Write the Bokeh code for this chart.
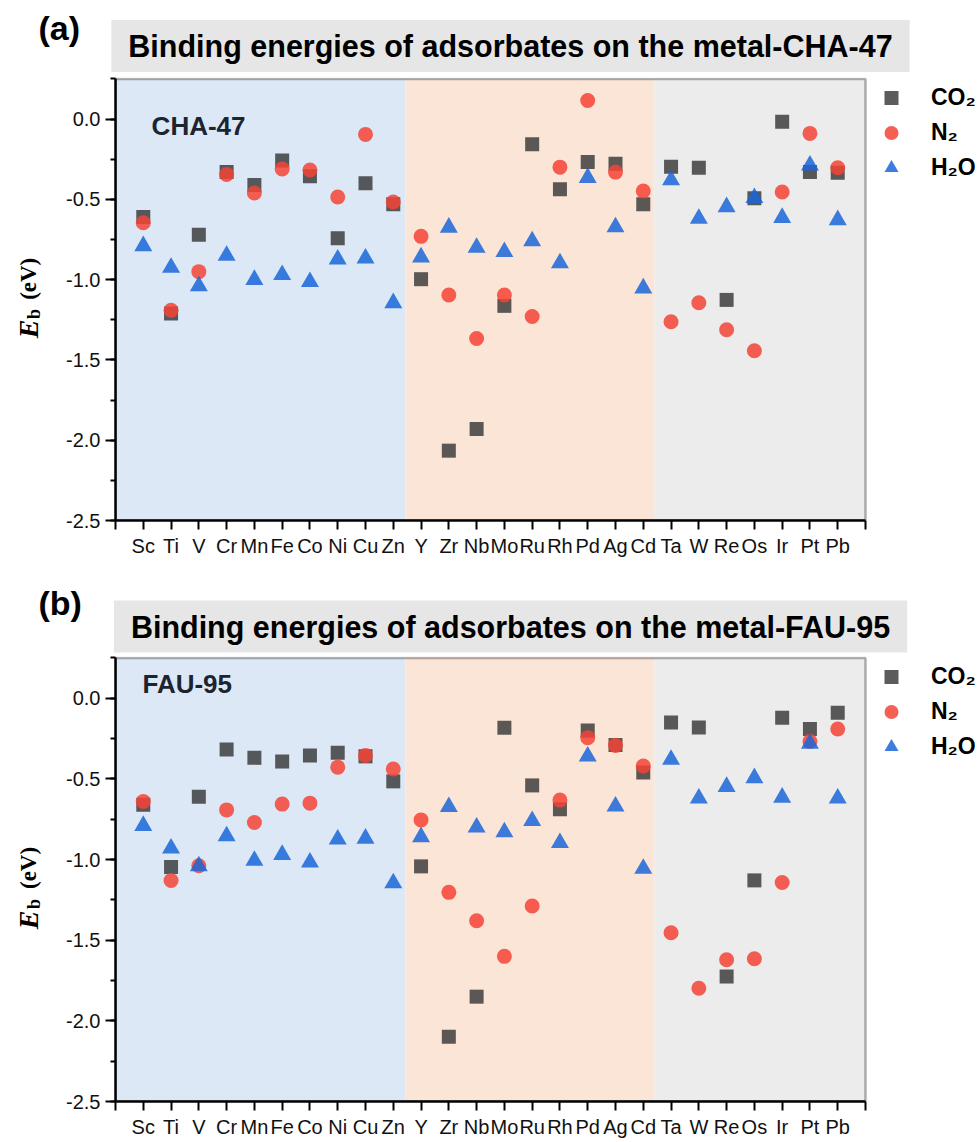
from bokeh.plotting import figure
from bokeh.models import (FixedTicker, NumeralTickFormatter, Label, BoxAnnotation,
                          Legend, LegendItem, ColumnDataSource)
from bokeh.layouts import column, row
from bokeh.embed import file_html
from bokeh.resources import INLINE

# ---------------- data ----------------
elements = ["Sc", "Ti", "V", "Cr", "Mn", "Fe", "Co", "Ni", "Cu", "Zn",
            "Y", "Zr", "Nb", "Mo", "Ru", "Rh", "Pd", "Ag", "Cd",
            "Ta", "W", "Re", "Os", "Ir", "Pt", "Pb"]

# metal-CHA-47
co2_cha = [-0.61, -1.21, -0.72, -0.33, -0.41, -0.257, -0.355, -0.742, -0.40, -0.53,
           -0.997, -2.065, -1.93, -1.163, -0.157, -0.437, -0.267, -0.278, -0.53,
           -0.296, -0.303, -1.126, -0.493, -0.017, -0.33, -0.334]
n2_cha = [-0.645, -1.19, -0.95, -0.345, -0.46, -0.31, -0.317, -0.485, -0.095, -0.516,
          -0.73, -1.095, -1.366, -1.095, -1.229, -0.299, 0.116, -0.33, -0.448,
          -1.262, -1.144, -1.312, -1.443, -0.454, -0.089, -0.303]
h2o_cha = [-0.79, -0.925, -1.04, -0.85, -1.00, -0.97, -1.014, -0.873, -0.867, -1.145,
           -0.86, -0.675, -0.80, -0.827, -0.76, -0.897, -0.365, -0.672, -1.053,
           -0.38, -0.62, -0.547, -0.49, -0.614, -0.288, -0.628]

# metal-FAU-95
co2_fau = [-0.66, -1.046, -0.61, -0.317, -0.369, -0.392, -0.354, -0.337, -0.36, -0.515,
           -1.042, -2.098, -1.85, -0.183, -0.54, -0.688, -0.20, -0.29, -0.46,
           -0.15, -0.181, -1.725, -1.129, -0.121, -0.19, -0.09]
n2_fau = [-0.64, -1.13, -1.038, -0.692, -0.77, -0.656, -0.65, -0.427, -0.354, -0.438,
          -0.754, -1.203, -1.379, -1.60, -1.288, -0.631, -0.244, -0.293, -0.42,
          -1.454, -1.798, -1.621, -1.615, -1.142, -0.267, -0.19]
h2o_fau = [-0.79, -0.93, -1.04, -0.854, -1.006, -0.97, -1.017, -0.875, -0.869, -1.146,
           -0.86, -0.673, -0.80, -0.83, -0.76, -0.896, -0.36, -0.67, -1.056,
           -0.38, -0.62, -0.548, -0.494, -0.615, -0.28, -0.62]

series_names = ["CO\u2082", "N\u2082", "H\u2082O"]
y_ticks = [0.0, -0.5, -1.0, -1.5, -2.0, -2.5]
y_minor = [0.25, 0.0, -0.25, -0.5, -0.75, -1.0, -1.25, -1.5, -1.75, -2.0, -2.25, -2.5]
y_lo, y_hi = -2.5, 0.25

# block boundaries (3d | 4d | 5d) in category units
edge_3d4d = 10.44
edge_4d5d = 19.40

SANS = "Liberation Sans"
SERIF = "Liberation Serif"
N = len(elements)
X_AXIS_END = N + 1            # axis runs 0 .. 27
YLAB_W = 50
MAIN_W = 930
LEFT_B = 115 - YLAB_W
PLOT_W = 750                  # width of the boxed plotting area in pixels
FRAME_W = MAIN_W - LEFT_B
X_VIEW_END = X_AXIS_END * FRAME_W / PLOT_W   # extra room on the right for the legend


def text_fig(width, height):
    f = figure(width=width, height=height, x_range=(0, width), y_range=(0, height),
               x_axis_location=None, y_axis_location=None, min_border=0,
               output_backend="svg", toolbar_location=None)
    f.outline_line_color = None
    f.grid.visible = False
    f.background_fill_color = "white"
    f.border_fill_color = "white"
    return f


def header(tag, title, height, tag_y, box_y):
    h = text_fig(980, height)
    h.add_layout(Label(x=38, y=tag_y, text=tag, text_align="left",
                       text_baseline="middle", text_font=SANS,
                       text_font_style="bold", text_font_size="34px",
                       text_color="black"))
    h.add_layout(Label(x=510, y=box_y, text=title, text_align="center",
                       text_baseline="middle", text_font=SANS,
                       text_font_style="bold", text_font_size="30.5px",
                       text_color="black", background_fill_color="#e6e6e6",
                       background_fill_alpha=1.0,
                       padding=dict(left=17, right=17, top=9, bottom=9)))
    return h


def ylabel(height):
    f = text_fig(YLAB_W, height)
    f.add_layout(Label(x=28, y=height - 299, text="E", angle=1.5708,
                       text_align="left", text_baseline="alphabetic",
                       text_font=SERIF, text_font_style="bold italic",
                       text_font_size="28px", text_color="black"))
    f.add_layout(Label(x=33, y=height - 277, text="b", angle=1.5708,
                       text_align="left", text_baseline="alphabetic",
                       text_font=SERIF, text_font_style="bold",
                       text_font_size="18px", text_color="black"))
    f.add_layout(Label(x=28, y=height - 255, text="(eV)", angle=1.5708,
                       text_align="left", text_baseline="alphabetic",
                       text_font=SERIF, text_font_style="bold",
                       text_font_size="23px", text_color="black"))
    return f


def main_panel(zeo, co2, n2, h2o, frame_h, bottom, zeo_x, zeo_y, leg_y):
    top = 3
    height = top + frame_h + bottom
    px_per_unit = frame_h / 2.75
    y_view_hi = y_hi + 1.5 / px_per_unit          # room for the top border line
    xs = list(range(1, N + 1))
    p = figure(width=MAIN_W, height=height, x_range=(0, X_VIEW_END),
               y_range=(y_lo, y_view_hi),
               output_backend="svg", toolbar_location=None,
               min_border_left=LEFT_B, min_border_right=0,
               min_border_top=top, min_border_bottom=bottom)
    p.background_fill_color = "white"
    p.border_fill_color = "white"
    p.grid.visible = False
    p.outline_line_color = None

    p.add_layout(BoxAnnotation(left=0, right=edge_3d4d, bottom=y_lo, top=y_hi,
                               fill_color="#dce8f5", fill_alpha=1, line_color=None,
                               level="underlay"))
    p.add_layout(BoxAnnotation(left=edge_3d4d, right=edge_4d5d, bottom=y_lo, top=y_hi,
                               fill_color="#fbe5d7", fill_alpha=1, line_color=None,
                               level="underlay"))
    p.add_layout(BoxAnnotation(left=edge_4d5d, right=X_AXIS_END, bottom=y_lo, top=y_hi,
                               fill_color="#ececec", fill_alpha=1, line_color=None,
                               level="underlay"))

    src = ColumnDataSource(dict(x=xs, co2=co2, n2=n2, h2o=h2o))
    r1 = p.scatter("x", "co2", source=src, marker="square", size=14,
                   fill_color="#333333", fill_alpha=0.8, line_color=None)
    r2 = p.scatter("x", "n2", source=src, marker="circle", size=15,
                   fill_color="#f44336", fill_alpha=0.85, line_color=None)
    r3 = p.scatter("x", "h2o", source=src, marker="triangle", size=18,
                   fill_color="#1a66d9", fill_alpha=0.85, line_color=None)

    # boxed frame around the plotting area
    p.add_layout(BoxAnnotation(left=0, right=X_AXIS_END, bottom=y_lo, top=y_hi,
                               fill_alpha=0, line_color="black", line_width=2.5,
                               level="overlay"))

    xa = p.xaxis[0]
    xa.bounds = (0, X_AXIS_END)
    xa.ticker = FixedTicker(ticks=list(range(0, X_AXIS_END + 1)))
    overrides = {i + 1: e for i, e in enumerate(elements)}
    overrides[0] = ""
    overrides[X_AXIS_END] = ""
    xa.major_label_overrides = overrides
    xa.minor_tick_line_color = None
    xa.major_tick_in = 0
    xa.major_tick_out = 9
    xa.major_tick_line_width = 2
    xa.axis_line_width = 2.5
    xa.major_label_standoff = 5
    xa.major_label_text_font = SANS
    xa.major_label_text_font_size = "20px"
    xa.major_label_text_color = "#111111"

    ya = p.yaxis[0]
    ya.bounds = (y_lo, y_hi)
    ya.ticker = FixedTicker(ticks=y_ticks, minor_ticks=y_minor)
    ya.formatter = NumeralTickFormatter(format="0.0")
    ya.major_tick_in = 0
    ya.major_tick_out = 10
    ya.minor_tick_in = 0
    ya.minor_tick_out = 5
    ya.major_tick_line_width = 2
    ya.minor_tick_line_width = 2
    ya.axis_line_width = 2.5
    ya.major_label_standoff = 5
    ya.major_label_text_font = SANS
    ya.major_label_text_font_size = "20px"
    ya.major_label_text_color = "#111111"

    p.add_layout(Label(x=zeo_x, y=zeo_y, text=zeo, text_align="left",
                       text_baseline="middle", text_font=SANS,
                       text_font_style="bold", text_font_size="26px",
                       text_color="#1c2431"))

    legend = Legend(items=[LegendItem(label=series_names[0], renderers=[r1]),
                           LegendItem(label=series_names[1], renderers=[r2]),
                           LegendItem(label=series_names[2], renderers=[r3])],
                    location=(754, leg_y), orientation="vertical",
                    border_line_color=None, background_fill_alpha=0,
                    padding=0, margin=0, spacing=0,
                    glyph_width=44, glyph_height=35, label_height=35,
                    label_standoff=18, label_text_font=SANS,
                    label_text_font_style="bold", label_text_font_size="23px",
                    label_text_color="black")
    p.add_layout(legend)
    return p


FRAME_A, BOT_A = 443, 62
FRAME_B, BOT_B = 445, 40
H_A = 3 + FRAME_A + BOT_A
H_B = 3 + FRAME_B + BOT_B

head_a = header("(a)", "Binding energies of adsorbates on the metal-CHA-47", 74,
                tag_y=47, box_y=28.5)
main_a = main_panel("CHA-47", co2_cha, n2_cha, h2o_cha, FRAME_A, BOT_A,
                    zeo_x=1.3, zeo_y=-0.04, leg_y=335)
head_b = header("(b)", "Binding energies of adsorbates on the metal-FAU-95", 71,
                tag_y=51, box_y=27)
main_b = main_panel("FAU-95", co2_fau, n2_fau, h2o_fau, FRAME_B, BOT_B,
                    zeo_x=0.97, zeo_y=0.088, leg_y=337)

layout = column(head_a, row(ylabel(H_A), main_a), head_b, row(ylabel(H_B), main_b))
open("out.html", "w").write(file_html(layout, INLINE))
